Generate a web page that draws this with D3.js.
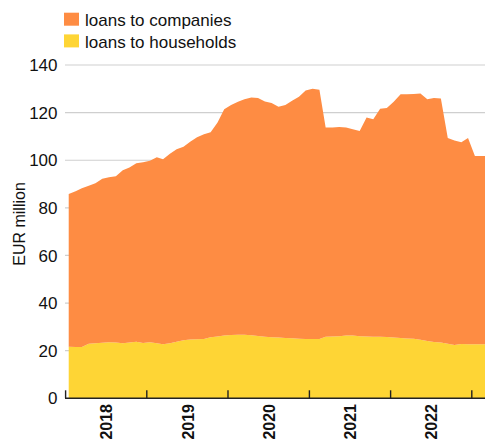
<!DOCTYPE html>
<html>
<head>
<meta charset="utf-8">
<script src="https://cdn.jsdelivr.net/npm/d3@7"></script>
<style>
  html, body { margin: 0; padding: 0; background: #fff; }
  svg { display: block; font-family: "Liberation Sans", Arial, Helvetica, sans-serif; }
</style>
</head>
<body>
<svg id="chart" width="485" height="441"></svg>
<script>
// Monthly observations, Jan 2018 – Mar 2023
const months = [
  "2018-01","2018-02","2018-03","2018-04","2018-05","2018-06","2018-07","2018-08","2018-09","2018-10","2018-11","2018-12",
  "2019-01","2019-02","2019-03","2019-04","2019-05","2019-06","2019-07","2019-08","2019-09","2019-10","2019-11","2019-12",
  "2020-01","2020-02","2020-03","2020-04","2020-05","2020-06","2020-07","2020-08","2020-09","2020-10","2020-11","2020-12",
  "2021-01","2021-02","2021-03","2021-04","2021-05","2021-06","2021-07","2021-08","2021-09","2021-10","2021-11","2021-12",
  "2022-01","2022-02","2022-03","2022-04","2022-05","2022-06","2022-07","2022-08","2022-09","2022-10","2022-11","2022-12",
  "2023-01","2023-02","2023-03"
];

// EUR million
const households = [
  21.7, 21.5, 21.5, 22.9, 23.1, 23.3, 23.5, 23.4, 23.1, 23.4, 23.8, 23.2,
  23.5, 23.1, 22.7, 23.1, 23.8, 24.4, 24.7, 24.8, 24.9, 25.6, 26.0, 26.4,
  26.6, 26.7, 26.7, 26.5, 26.2, 25.9, 25.6, 25.5, 25.3, 25.2, 25.0, 24.9,
  24.9, 24.9, 25.9, 26.0, 26.1, 26.4, 26.4, 26.1, 26.0, 25.9, 25.9, 25.7,
  25.5, 25.3, 25.1, 25.0, 24.6, 24.1, 23.7, 23.4, 22.9, 22.4, 22.8, 22.7,
  22.7, 22.7, 22.7
];

const companies = [
  64.1, 65.5, 66.7, 66.4, 67.2, 68.9, 69.3, 69.9, 72.7, 73.5, 74.9, 75.9,
  76.3, 78.2, 77.7, 79.6, 80.8, 81.3, 83.1, 84.9, 86.0, 86.2, 89.8, 95.0,
  96.6, 97.9, 98.9, 99.8, 99.9, 98.8, 98.4, 97.0, 97.9, 99.8, 101.7, 104.4,
  105.1, 104.7, 87.8, 87.8, 87.9, 87.4, 86.6, 86.2, 91.9, 91.3, 95.7, 96.2,
  99.1, 102.4, 102.6, 102.8, 103.4, 101.5, 102.4, 102.5, 86.4, 85.9, 84.8, 86.6,
  79.1, 79.1, 79.1
];

const yTicks = [0, 20, 40, 60, 80, 100, 120, 140];
const yearLabels = [2018, 2019, 2020, 2021, 2022];
const yearTicks = [2018, 2019, 2020, 2021, 2022, 2023];

const seriesKeys = ["households", "companies"];
const seriesNames = { companies: "loans to companies", households: "loans to households" };
const colors = { companies: "#fe8c43", households: "#fed535" };

const W = 485, H = 441;
const svg = d3.select("#chart");

const parseMonth = d3.timeParse("%Y-%m");
const rows = months.map((m, i) => {
  const d = parseMonth(m);
  return {
    date: new Date(d.getFullYear(), d.getMonth(), 15),
    households: households[i],
    companies: companies[i]
  };
});

const x = d3.scaleTime()
  .domain([new Date(2018, 0, 1), new Date(2023, 0, 1)])
  .range([65.6, 471.8]);

const y = d3.scaleLinear()
  .domain([0, 140])
  .range([398.3, 65]);

// Gridlines behind the areas
svg.append("g")
  .selectAll("line")
  .data(yTicks.filter(v => v > 0))
  .join("line")
  .attr("x1", 65)
  .attr("x2", W)
  .attr("y1", d => y(d))
  .attr("y2", d => y(d))
  .attr("stroke", "#cfcfcf")
  .attr("stroke-width", 1.2);

// Y tick labels
svg.append("g")
  .selectAll("text")
  .data(yTicks)
  .join("text")
  .attr("x", 57.5)
  .attr("y", d => y(d))
  .attr("dy", "0.36em")
  .attr("text-anchor", "end")
  .attr("font-size", 17)
  .attr("fill", "#111")
  .text(d => d);

// Stacked areas
const stack = d3.stack().keys(seriesKeys);
const layers = stack(rows);

const area = d3.area()
  .x(d => x(d.data.date))
  .y0(d => y(d[0]))
  .y1(d => y(d[1]));

svg.append("g")
  .selectAll("path")
  .data(layers)
  .join("path")
  .attr("fill", d => colors[d.key])
  .attr("d", area);

// X axis baseline and year boundary ticks
svg.append("line")
  .attr("x1", 65)
  .attr("x2", W)
  .attr("y1", y(0))
  .attr("y2", y(0))
  .attr("stroke", "#222")
  .attr("stroke-width", 1.4);

svg.append("g")
  .selectAll("line")
  .data(yearTicks)
  .join("line")
  .attr("x1", d => x(new Date(d, 0, 1)))
  .attr("x2", d => x(new Date(d, 0, 1)))
  .attr("y1", y(0))
  .attr("y2", y(0) - 8)
  .attr("stroke", "#222")
  .attr("stroke-width", 1.4);

// Year labels, rotated, centred in each year
svg.append("g")
  .selectAll("text")
  .data(yearLabels)
  .join("text")
  .attr("transform", d => `translate(${x(new Date(d, 6, 2)) + 6.3},404) rotate(-90)`)
  .attr("text-anchor", "end")
  .attr("font-size", 16)
  .attr("font-weight", "bold")
  .attr("fill", "#111")
  .text(d => d);

// Y axis title
svg.append("text")
  .attr("transform", "translate(24.5,224) rotate(-90)")
  .attr("text-anchor", "middle")
  .attr("font-size", 16)
  .attr("fill", "#111")
  .text("EUR million");

// Legend
const legendOrder = ["companies", "households"];
const legend = svg.append("g")
  .selectAll("g")
  .data(legendOrder)
  .join("g")
  .attr("transform", (d, i) => `translate(64,${12.7 + i * 21.7})`);

legend.append("rect")
  .attr("width", 15)
  .attr("height", 13)
  .attr("fill", d => colors[d]);

legend.append("text")
  .attr("x", 21)
  .attr("y", 13.2)
  .attr("font-size", 17)
  .attr("fill", "#111")
  .text(d => seriesNames[d]);
</script>
</body>
</html>
